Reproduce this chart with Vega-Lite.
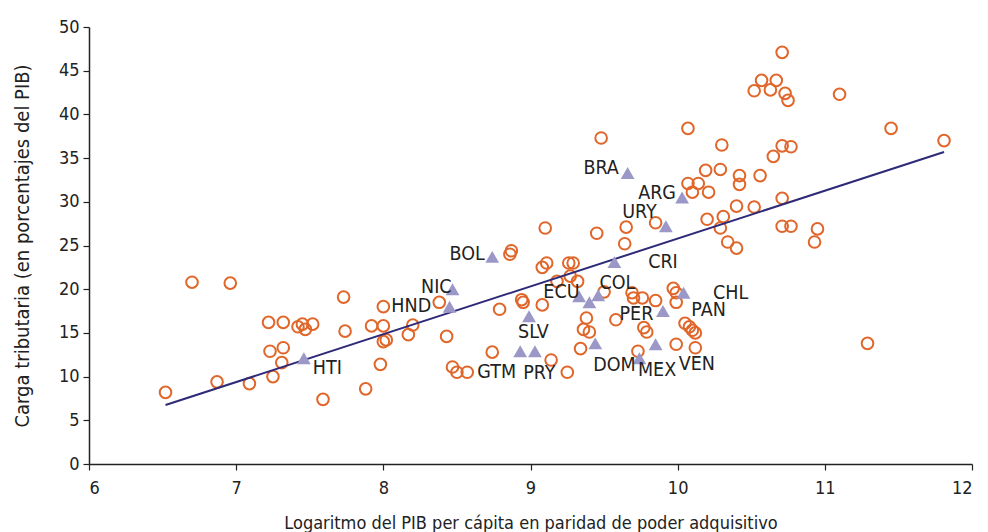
{
  "$schema": "https://vega.github.io/schema/vega-lite/v6.json",
  "autosize": "none",
  "width": 883,
  "height": 437,
  "padding": {"left": 89, "top": 27, "right": 16, "bottom": 68},
  "background": "white",
  "config": {
    "view": {"stroke": null},
    "font": "DejaVu Sans Condensed, Roboto, sans-serif",
    "axis": {"grid": false, "domainColor": "#222", "tickColor": "#222", "labelColor": "#222", "titleColor": "#222", "labelFont": "DejaVu Sans Condensed, Roboto, sans-serif", "titleFont": "DejaVu Sans Condensed, Roboto, sans-serif", "labelFontSize": 18, "titleFontSize": 18, "titleFontWeight": "normal", "domainWidth": 1.5, "tickWidth": 1.2}
  },
  "datasets": {
    "others": [
      {"x":6.52,"y":8.2},{"x":6.70,"y":20.8},{"x":6.96,"y":20.7},{"x":6.87,"y":9.4},{"x":7.09,"y":9.2},
      {"x":7.22,"y":16.2},{"x":7.32,"y":16.2},{"x":7.23,"y":12.9},{"x":7.32,"y":13.3},{"x":7.31,"y":11.6},
      {"x":7.25,"y":10.0},{"x":7.42,"y":15.7},{"x":7.45,"y":16.0},{"x":7.47,"y":15.4},{"x":7.52,"y":16.0},
      {"x":7.59,"y":7.4},{"x":7.73,"y":19.1},{"x":7.74,"y":15.2},{"x":7.88,"y":8.6},{"x":7.92,"y":15.8},
      {"x":8.0,"y":18.0},{"x":8.0,"y":15.8},{"x":8.20,"y":15.9},{"x":8.17,"y":14.8},{"x":8.0,"y":14.0},
      {"x":8.02,"y":14.2},{"x":8.43,"y":14.6},{"x":7.98,"y":11.4},{"x":8.47,"y":11.1},{"x":8.50,"y":10.5},
      {"x":8.57,"y":10.5},{"x":8.74,"y":12.8},{"x":8.79,"y":17.7},{"x":8.38,"y":18.5},{"x":8.94,"y":18.8},
      {"x":8.95,"y":18.5},{"x":9.08,"y":18.2},{"x":9.14,"y":11.9},{"x":9.25,"y":10.5},{"x":9.10,"y":27.0},
      {"x":9.45,"y":26.4},{"x":9.65,"y":27.1},{"x":9.64,"y":25.2},{"x":8.87,"y":24.4},{"x":8.86,"y":24.0},
      {"x":9.08,"y":22.5},{"x":9.11,"y":23.0},{"x":9.26,"y":23.0},{"x":9.29,"y":23.0},{"x":9.18,"y":20.9},
      {"x":9.27,"y":21.5},{"x":9.32,"y":20.9},{"x":9.50,"y":19.7},{"x":9.38,"y":16.7},{"x":9.36,"y":15.4},
      {"x":9.40,"y":15.1},{"x":9.34,"y":13.2},{"x":9.69,"y":19.6},{"x":9.70,"y":19.0},{"x":9.76,"y":19.0},
      {"x":9.85,"y":18.7},{"x":9.58,"y":16.5},{"x":9.97,"y":20.1},{"x":9.99,"y":19.6},{"x":9.99,"y":18.5},
      {"x":10.05,"y":16.1},{"x":10.08,"y":15.7},{"x":10.10,"y":15.3},{"x":10.12,"y":15.0},{"x":9.77,"y":15.6},
      {"x":9.79,"y":15.1},{"x":9.99,"y":13.7},{"x":10.12,"y":13.3},{"x":9.73,"y":12.9},{"x":10.07,"y":38.4},
      {"x":10.30,"y":36.5},{"x":10.65,"y":35.2},{"x":10.71,"y":36.4},{"x":10.77,"y":36.3},{"x":10.19,"y":33.6},
      {"x":10.29,"y":33.7},{"x":10.42,"y":33.0},{"x":10.42,"y":32.0},{"x":10.56,"y":33.0},{"x":10.07,"y":32.1},
      {"x":10.14,"y":32.1},{"x":10.10,"y":31.1},{"x":10.21,"y":31.1},{"x":10.40,"y":29.5},{"x":10.52,"y":29.4},
      {"x":10.71,"y":30.4},{"x":9.85,"y":27.6},{"x":10.20,"y":28.0},{"x":10.31,"y":28.3},{"x":10.29,"y":27.0},
      {"x":10.71,"y":27.2},{"x":10.77,"y":27.2},{"x":10.34,"y":25.4},{"x":10.40,"y":24.7},{"x":10.71,"y":47.1},
      {"x":10.57,"y":43.9},{"x":10.67,"y":43.9},{"x":10.52,"y":42.7},{"x":10.63,"y":42.8},{"x":10.73,"y":42.4},
      {"x":10.75,"y":41.6},{"x":11.10,"y":42.3},{"x":9.48,"y":37.3},{"x":11.45,"y":38.4},{"x":11.81,"y":37.0},
      {"x":10.95,"y":26.9},{"x":10.93,"y":25.4},{"x":11.29,"y":13.8}
    ],
    "latam": [
      {"country":"HTI","x":7.46,"y":12.1,"lx":7.62,"ly":11.0},
      {"country":"HND","x":8.45,"y":18.0,"lx":8.19,"ly":18.1},
      {"country":"NIC","x":8.47,"y":20.0,"lx":8.36,"ly":20.3},
      {"country":"BOL","x":8.74,"y":23.7,"lx":8.57,"ly":24.0},
      {"country":"SLV","x":8.99,"y":16.9,"lx":9.02,"ly":15.1},
      {"country":"GTM","x":8.93,"y":12.9,"lx":8.77,"ly":10.5},
      {"country":"PRY","x":9.03,"y":12.9,"lx":9.06,"ly":10.4},
      {"country":"ECU","x":9.33,"y":19.2,"lx":9.21,"ly":19.7},
      {"country":"PER","x":9.40,"y":18.5,"lx":9.72,"ly":17.2},
      {"country":"COL","x":9.46,"y":19.3,"lx":9.59,"ly":20.7},
      {"country":"DOM","x":9.44,"y":13.8,"lx":9.57,"ly":11.3},
      {"country":"CRI","x":9.57,"y":23.1,"lx":9.90,"ly":23.1},
      {"country":"BRA","x":9.66,"y":33.3,"lx":9.48,"ly":33.9},
      {"country":"PAN","x":9.90,"y":17.5,"lx":10.21,"ly":17.6},
      {"country":"URY","x":9.92,"y":27.2,"lx":9.74,"ly":28.8},
      {"country":"ARG","x":10.03,"y":30.5,"lx":9.86,"ly":31.0},
      {"country":"CHL","x":10.04,"y":19.6,"lx":10.36,"ly":19.6},
      {"country":"MEX","x":9.74,"y":12.1,"lx":9.86,"ly":10.8},
      {"country":"VEN","x":9.85,"y":13.7,"lx":10.13,"ly":11.4}
    ],
    "fit": [
      {"x":6.52,"y":6.75},
      {"x":11.81,"y":35.7}
    ]
  },
  "layer": [
    {
      "data": {"name": "others"},
      "mark": {"type": "point", "shape": "circle", "filled": false, "stroke": "#e0662a", "strokeWidth": 2, "size": 135, "opacity": 1},
      "encoding": {
        "x": {"field": "x", "type": "quantitative", "scale": {"domain": [6, 12], "nice": false, "zero": false},
          "axis": {"title": "Logaritmo del PIB per cápita en paridad de poder adquisitivo", "values": [6,7,8,9,10,11,12], "tickSize": 6, "labelPadding": 9, "titlePadding": 17, "format": "d"}},
        "y": {"field": "y", "type": "quantitative", "scale": {"domain": [0, 50], "nice": false},
          "axis": {"title": "Carga tributaria (en porcentajes del PIB)", "titleFontSize": 20, "values": [0,5,10,15,20,25,30,35,40,45,50], "tickSize": 6, "labelPadding": 4, "titlePadding": 26}}
      }
    },
    {
      "data": {"name": "fit"},
      "mark": {"type": "line", "color": "#2e2a78", "strokeWidth": 2},
      "encoding": {
        "x": {"field": "x", "type": "quantitative"},
        "y": {"field": "y", "type": "quantitative"}
      }
    },
    {
      "data": {"name": "latam"},
      "mark": {"type": "point", "shape": "triangle-up", "filled": true, "color": "#9b98c8", "size": 190, "opacity": 1},
      "encoding": {
        "x": {"field": "x", "type": "quantitative"},
        "y": {"field": "y", "type": "quantitative"}
      }
    },
    {
      "data": {"name": "latam"},
      "mark": {"type": "text", "fontSize": 19.5, "color": "#222", "align": "center", "baseline": "middle", "font": "DejaVu Sans Condensed, Roboto, sans-serif"},
      "encoding": {
        "x": {"field": "lx", "type": "quantitative"},
        "y": {"field": "ly", "type": "quantitative"},
        "text": {"field": "country"}
      }
    }
  ]
}
